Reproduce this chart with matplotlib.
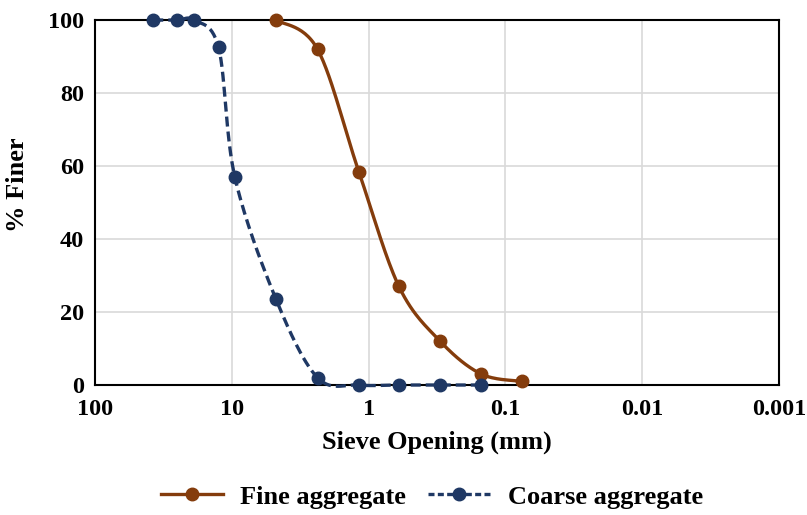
import numpy as np
import matplotlib
matplotlib.use("Agg")
import matplotlib.pyplot as plt
from matplotlib.ticker import FixedLocator, FixedFormatter, NullLocator

plt.rcParams['font.family'] = ['Liberation Serif', 'DejaVu Serif']
plt.rcParams['font.weight'] = 'bold'

fine_size = [4.75, 2.36, 1.18, 0.6, 0.3, 0.15, 0.075]
fine_pass = [100, 92, 58.5, 27, 12, 3, 1]
coarse_size = [37.5, 25, 19, 12.5, 9.5, 4.75, 2.36, 1.18, 0.6, 0.3, 0.15]
coarse_pass = [100, 100, 100, 92.5, 57, 23.5, 2, 0, 0, 0, 0]
xticks = [100, 10, 1, 0.1, 0.01, 0.001]
xticklabels = ["100", "10", "1", "0.1", "0.01", "0.001"]
yticks = [0, 20, 40, 60, 80, 100]

fine_color = "#843C0C"
coarse_color = "#1F3864"
FS_TICK = 17.5
FS_TITLE = 19
LW = 2.4
MS = 9
DASH = (0, (3.0, 1.5))

fig = plt.figure(figsize=(8.07, 5.15), dpi=100)
ax = fig.add_axes([0.1177, 0.2524, 0.8476, 0.7086])
ax.set_xscale('log')
ax.set_xlim(100, 0.001)
ax.set_ylim(0, 100)


def smooth(ax, xs, ys, n=30):
    pts = ax.transData.transform(np.column_stack([xs, ys]))
    P = np.vstack([pts[0], pts, pts[-1]])
    out = []
    for i in range(1, len(P) - 2):
        p0, p1, p2, p3 = P[i - 1], P[i], P[i + 1], P[i + 2]
        c1 = p1 + (p2 - p0) / 6.0
        c2 = p2 - (p3 - p1) / 6.0
        t = np.linspace(0, 1, n)[:, None]
        seg = ((1 - t) ** 3) * p1 + 3 * ((1 - t) ** 2) * t * c1 + 3 * (1 - t) * t ** 2 * c2 + t ** 3 * p2
        out.append(seg if i == 1 else seg[1:])
    out = np.vstack(out)
    d = ax.transData.inverted().transform(out)
    return d[:, 0], d[:, 1]


fx, fy = smooth(ax, fine_size, fine_pass)
cx, cy = smooth(ax, coarse_size, coarse_pass)

ax.plot(fx, fy, color=fine_color, lw=LW, solid_capstyle='round', zorder=3, clip_on=False)
ax.plot(fine_size, fine_pass, 'o', color=fine_color, ms=MS, zorder=4, clip_on=False)
ax.plot(cx, cy, color=coarse_color, lw=LW, ls=DASH, zorder=3, clip_on=False)
ax.plot(coarse_size, coarse_pass, 'o', color=coarse_color, ms=MS, zorder=4, clip_on=False)

# legend proxies
ax.plot([], [], '-o', color=fine_color, lw=LW, ms=MS, label="Fine aggregate")
ax.plot([], [], 'o', ls=(0, (1.8, 1.0)), color=coarse_color, lw=LW, ms=MS, label="Coarse aggregate")
handles, labels = ax.get_legend_handles_labels()
leg = fig.legend(handles, labels, loc='center', bbox_to_anchor=(0.535, 0.035), ncol=2,
                 frameon=False, handlelength=2.35, columnspacing=0.85,
                 handletextpad=0.65, prop={'weight': 'bold', 'size': FS_TITLE})

ax.xaxis.set_major_locator(FixedLocator(xticks))
ax.xaxis.set_major_formatter(FixedFormatter(xticklabels))
ax.xaxis.set_minor_locator(NullLocator())
ax.set_yticks(yticks)
ax.tick_params(axis='both', length=0, labelsize=FS_TICK)
ax.tick_params(axis='y', pad=8)
ax.tick_params(axis='x', pad=10)
for lbl in ax.get_xticklabels() + ax.get_yticklabels():
    lbl.set_fontweight('bold')

ax.grid(True, color='#D9D9D9', lw=1.2, zorder=0)
ax.set_axisbelow(True)
for s in ax.spines.values():
    s.set_color('black')
    s.set_linewidth(1.5)

ax.set_xlabel("Sieve Opening (mm)", fontsize=FS_TITLE, fontweight='bold', labelpad=8)
ax.set_ylabel("% Finer", fontsize=FS_TITLE, fontweight='bold')
ax.yaxis.set_label_coords(-0.096, 0.548)

fig.savefig("out.png", dpi=100)
